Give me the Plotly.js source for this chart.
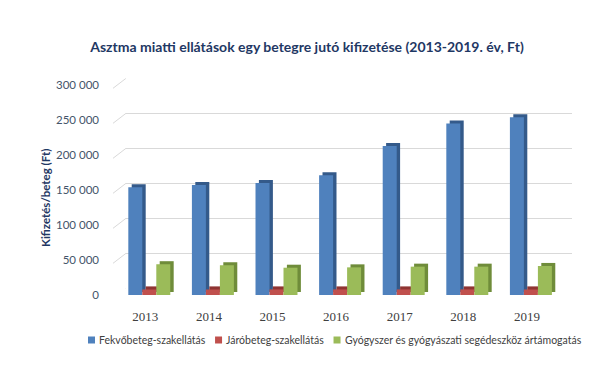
<!DOCTYPE html>
<html><head><meta charset="utf-8">
<script src="https://cdn.plot.ly/plotly-3.0.1.min.js"></script>
<style>html,body{margin:0;padding:0;background:#fff}</style>
</head><body><div id="chart" style="width:600px;height:374px"></div>
<script>
// ---- data ----
const years = ['2013', '2014', '2015', '2016', '2017', '2018', '2019'];
const inpatient  = [154000, 157000, 160000, 171000, 213000, 245000, 254000];
const outpatient = [8000, 8000, 8000, 8000, 8000, 8000, 8000];
const drugs      = [44000, 42500, 39000, 39500, 40500, 40500, 41500];
const seriesNames = ['Fekvőbeteg-szakellátás', 'Járóbeteg-szakellátás', 'Gyógyszer és gyógyászati segédeszköz ártámogatás'];
const yTickVals = [0, 50000, 100000, 150000, 200000, 250000, 300000];
const yTickText = ['0', '50 000', '100 000', '150 000', '200 000', '250 000', '300 000'];
const chartTitle = 'Asztma miatti ellátások egy betegre jutó kifizetése (2013-2019. év, Ft)';
const yTitle = 'Kifizetés/beteg (Ft)';

// ---- style ----
const W = 600, H = 374;
const px = x => x / W, py = y => 1 - y / H;
const frontColors = ['#4f81bd', '#c0504d', '#9bbb59'];
const sideColors  = ['#345a8a', '#8f3432', '#6f8c3a'];
const values = [inpatient, outpatient, drugs];
const font = 'Lato, "Open Sans", sans-serif';

const fx = [117.5, 562.7], fy = [295, 85];
const dx = 3.4, dy = 3;
const traces = [];
traces.push({type: 'scatter', x: [0.5], y: [0], xaxis: 'x', yaxis: 'y', mode: 'none', showlegend: false, hoverinfo: 'skip'});
values.forEach((v, i) => traces.push({
  type: 'bar', x: years, y: v, xaxis: 'x2', yaxis: 'y2', showlegend: false,
  marker: {color: sideColors[i], line: {width: 0}}, hoverinfo: 'skip'
}));
values.forEach((v, i) => traces.push({
  type: 'bar', x: years, y: v, xaxis: 'x3', yaxis: 'y3', name: seriesNames[i], showlegend: false,
  marker: {color: frontColors[i], line: {width: 0}}
}));

const shapes = yTickVals.map(v => ({
  type: 'line', xref: 'paper', yref: 'y', ysizemode: 'pixel', yanchor: v,
  x0: px(113), x1: px(126), y0: -10, y1: 0, layer: 'below',
  line: {color: '#d9d9d9', width: 1}
}));

// custom legend: square + text, laid out from measured text widths
const legFontSize = 10.5;
const ctx = document.createElement('canvas').getContext('2d');
ctx.font = legFontSize + 'px Lato';
const textW = seriesNames.map(n => ctx.measureText(n).width);
const legStart = 88, legEnd = 580, sq = 7, sqGap = 3;
const itemGap = (legEnd - legStart - textW.reduce((a, b) => a + b, 0) - 3 * (sq + sqGap)) / 2;
const legendY = 340;
const annotations = [{
  text: '<b>' + yTitle + '</b>', xref: 'paper', yref: 'paper', x: px(45), y: py(198),
  xanchor: 'center', yanchor: 'middle', textangle: -90, showarrow: false,
  font: {family: font, size: 11.5, color: '#1f3864'}
}];
let cur = legStart;
seriesNames.forEach((n, i) => {
  shapes.push({type: 'rect', xref: 'paper', yref: 'paper',
    x0: px(cur), x1: px(cur + sq), y0: py(legendY + 3.5), y1: py(legendY - 3.5),
    fillcolor: frontColors[i], line: {width: 0}});
  annotations.push({text: n, xref: 'paper', yref: 'paper', x: px(cur + sq + sqGap - 1), y: py(legendY),
    xanchor: 'left', yanchor: 'middle', showarrow: false,
    font: {family: font, size: legFontSize, color: '#404040'}});
  cur += sq + sqGap + textW[i] + itemGap;
});

const layout = {
  width: W, height: H,
  margin: {l: 0, r: 0, t: 0, b: 0},
  paper_bgcolor: '#ffffff', plot_bgcolor: 'rgba(0,0,0,0)',
  showlegend: false,
  barmode: 'group', bargap: 0.34, bargroupgap: 0,
  title: {
    text: '<b>' + chartTitle + '</b>', x: px(307), y: py(47), xanchor: 'center', yanchor: 'middle',
    xref: 'container', yref: 'container',
    font: {family: font, size: 14, color: '#1f3864'}
  },
  xaxis: {domain: [px(126), px(571.7)], range: [0, 1], showgrid: false, zeroline: false, showticklabels: false, ticks: ''},
  yaxis: {domain: [py(288.3), py(78.3)], range: [0, 300000], tickvals: yTickVals, showgrid: true, gridcolor: '#d9d9d9', gridwidth: 1,
          zeroline: false, showticklabels: false, ticks: ''},
  xaxis2: {domain: [px(fx[0] + dx), px(fx[1] + dx)], type: 'category', range: [-0.5, 6.5], showgrid: false, zeroline: false, showticklabels: false, ticks: ''},
  yaxis2: {domain: [py(fy[0] - dy), py(fy[1] - dy)], range: [0, 300000], showgrid: false, zeroline: false, showticklabels: false, ticks: ''},
  xaxis3: {domain: [px(fx[0]), px(fx[1])], type: 'category', range: [-0.5, 6.5], showgrid: false, zeroline: false, ticks: '',
           showline: false, ticklabelshift: -4, ticklabelstandoff: 19,
           tickfont: {family: '"Liberation Serif", serif', size: 13, color: '#404040'}},
  yaxis3: {domain: [py(fy[0]), py(fy[1])], range: [0, 300000], tickvals: yTickVals, ticktext: yTickText, showgrid: false, zeroline: false,
           ticks: '', showline: false, ticklabelstandoff: 26,
           tickfont: {family: font, size: 11.5, color: '#44546a'}},
  annotations: annotations,
  shapes: shapes
};

Plotly.newPlot('chart', traces, layout, {displayModeBar: false, staticPlot: true});
</script>
</body></html>
